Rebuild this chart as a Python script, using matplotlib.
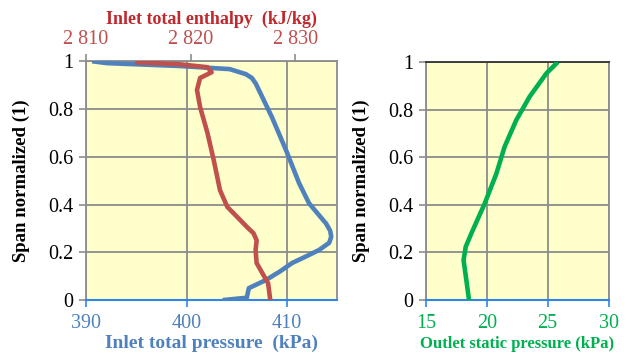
import matplotlib
matplotlib.use("Agg")
import matplotlib.pyplot as plt

# span values (normalized) and the three profiles
span_p   = [0.0, 0.01, 0.05, 0.084, 0.12, 0.155, 0.185, 0.21, 0.24, 0.265, 0.29,
            0.32, 0.405, 0.49, 0.628, 0.766, 0.906, 0.93, 0.946, 0.967, 0.98,
            0.992, 1.0]
p_inlet  = [403.6, 406.0, 406.2, 407.9, 409.3, 410.5, 412.0, 413.2, 414.2, 414.4,
            414.3, 413.9, 412.2, 411.2, 409.9, 408.5, 406.9, 406.5, 405.9, 404.3,
            399.3, 392.1, 390.6]

span_h   = [0.0, 0.07, 0.155, 0.21, 0.25, 0.28, 0.305, 0.35, 0.39, 0.46, 0.586,
            0.70, 0.808, 0.88, 0.93, 0.954, 0.975, 0.987, 0.996]
h_inlet  = [2827.6, 2827.4, 2826.3, 2826.2, 2826.3, 2826.0, 2825.4, 2824.4, 2823.5,
            2822.8, 2822.2, 2821.6, 2820.9, 2820.6, 2820.9, 2822.0, 2821.6, 2819.0,
            2814.7]

span_s   = [0.0, 0.084, 0.168, 0.224, 0.28, 0.406, 0.532, 0.644, 0.756, 0.854,
            0.952, 1.0]
p_outlet = [18.55, 18.33, 18.1, 18.28, 18.74, 19.84, 20.8, 21.47, 22.43, 23.52,
            24.9, 25.84]

BLUE, RED, GREEN = "#4F81BD", "#C0504D", "#00B050"
BG, GRID = "#FFFFCC", "#8C8C8C"
AXBLUE = "#2E86E8"
TICK_FS, LABEL_FS = 14.5, 13.5

plt.rcParams["font.family"] = ["Liberation Serif", "DejaVu Serif"]

fig = plt.figure(figsize=(6.28, 3.56), dpi=100)
ax1 = fig.add_axes([0.137, 0.157, 0.400, 0.671])
ax2 = fig.add_axes([0.678, 0.157, 0.291, 0.669])


def style(ax, xticks, xlim, tick_color):
    ax.set_facecolor(BG)
    ax.set_xlim(*xlim)
    ax.set_ylim(0, 1)
    ax.set_xticks(xticks)
    ax.set_yticks([0, 0.2, 0.4, 0.6, 0.8, 1])
    ax.set_yticklabels(["0", "0.2", "0.4", "0.6", "0.8", "1"])
    ax.grid(True, color=GRID, lw=1.3)
    ax.set_axisbelow(True)
    for s in ("left", "right", "top"):
        ax.spines[s].set_color(GRID)
        ax.spines[s].set_linewidth(1.3)
    ax.spines["bottom"].set_color(AXBLUE)
    ax.spines["bottom"].set_linewidth(1.5)
    ax.tick_params(axis="x", colors=AXBLUE, labelcolor=tick_color,
                   labelsize=TICK_FS, length=5, direction="out", width=1.2, pad=5)
    ax.tick_params(axis="y", color=GRID, labelsize=TICK_FS, length=5, width=1.2,
                   pad=4)
    ax.set_ylabel("Span normalized (1)", fontsize=LABEL_FS, fontweight="bold")


style(ax1, [390, 400, 410], (390, 415), BLUE)
ax1.plot(p_inlet, span_p, color=BLUE, lw=3.3, solid_capstyle="butt",
         solid_joinstyle="round", zorder=3)
ax1.set_xlabel("Inlet total pressure  (kPa)", fontsize=14, fontweight="bold",
               color=BLUE, labelpad=1)
ax1.yaxis.set_label_coords(-0.223, 0.5)

axt = ax1.twiny()
axt.set_xlim(2810, 2834)
axt.set_ylim(0, 1)
axt.set_xticks([2810, 2820, 2830])
axt.set_xticklabels(["2 810", "2 820", "2 830"])
axt.tick_params(axis="x", colors=GRID, labelcolor=RED, labelsize=TICK_FS,
                length=5, width=1.2, pad=4)
for s in axt.spines.values():
    s.set_visible(False)
axt.plot(h_inlet, span_h, color=RED, lw=3.3, solid_capstyle="butt",
         solid_joinstyle="round", zorder=3)
axt.set_xlabel("Inlet total enthalpy  (kJ/kg)", fontsize=13, fontweight="bold",
               color="#C0282D", labelpad=4)

style(ax2, [15, 20, 25, 30], (15, 30), GREEN)
ax2.spines["top"].set_color("#333333")
ax2.plot(p_outlet, span_s, color=GREEN, lw=3.3, solid_capstyle="butt",
         solid_joinstyle="round", zorder=3)
ax2.set_xlabel("Outlet static pressure (kPa)", fontsize=12, fontweight="bold",
               color=GREEN, labelpad=2)
ax2.yaxis.set_label_coords(-0.306, 0.5)

fig.savefig("out.png", dpi=100)
